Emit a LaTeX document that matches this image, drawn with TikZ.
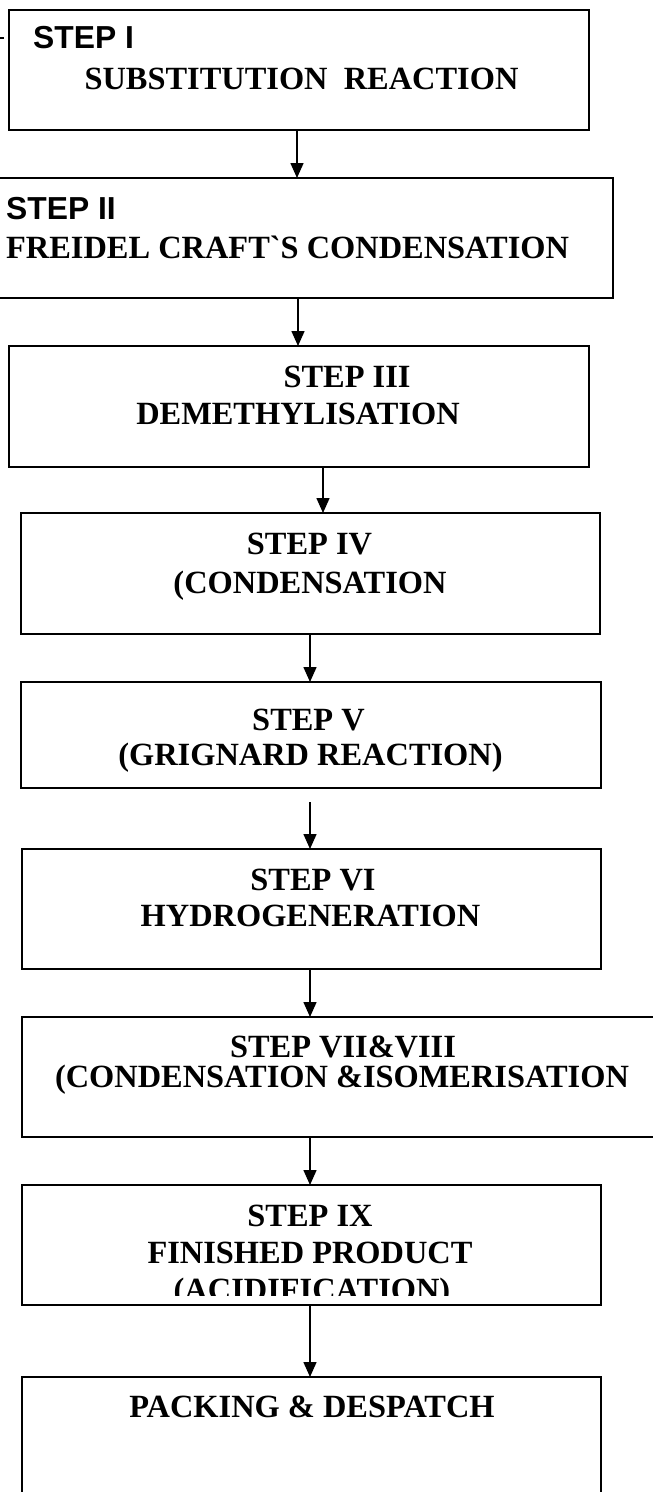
\documentclass[tikz,border=0pt]{standalone}
\usepackage{fontspec}
\usetikzlibrary{arrows.meta}
\newfontfamily\stepfont{Liberation Serif}[Ligatures=TeXOff]
\newfontfamily\stepsans{Liberation Sans}

\begin{document}
\begin{tikzpicture}[x=1pt,y=-1pt,
  box/.style={draw,line width=1.5pt,inner sep=0pt,outer sep=0pt},
  lbl/.style={inner sep=0pt,font=\stepfont\bfseries\fontsize{32.4}{38}\selectfont},
  lbls/.style={inner sep=0pt,font=\stepsans\bfseries\fontsize{31.8}{38}\selectfont},
  flow/.style={line width=1.5pt,-{Triangle[length=15pt,width=13pt]}}]
\path[use as bounding box,clip] (0,0) rectangle (653,1492);

% boxes
\node[box,minimum width=580pt,minimum height=120pt] (b1) at (299,70) {};
\node[box,minimum width=619pt,minimum height=120pt] (b2) at (303.5,238) {};
\node[box,minimum width=580pt,minimum height=121pt] (b3) at (299,406.5) {};
\node[box,minimum width=579pt,minimum height=121pt] (b4) at (310.5,573.5) {};
\node[box,minimum width=580pt,minimum height=106pt] (b5) at (311,735) {};
\node[box,minimum width=579pt,minimum height=120pt] (b6) at (311.5,909) {};
\node[box,minimum width=641pt,minimum height=120pt] (b7) at (342.5,1077) {};
\node[box,minimum width=579pt,minimum height=120pt] (b8) at (311.5,1245) {};
\node[box,minimum width=579pt,minimum height=133pt] (b9) at (311.5,1443.5) {};

% stray tick left of the first box
\coordinate (k1) at (0,38);
\coordinate (k2) at (4,38);
\draw[line width=2pt] (k1) -- (k2);

% labels
\node[lbls,anchor=base west] (t1a) at (33,48) {STEP I};
\node[lbl,anchor=base] (t1b) at (301.5,89) {SUBSTITUTION\ \ REACTION};
\node[lbls,anchor=base west] (t2a) at (6,219) {STEP II};
\node[lbl,anchor=base west] (t2b) at (6,258) {FREIDEL CRAFT`S CONDENSATION};
\node[lbl,anchor=base] (t3a) at (347,387) {STEP III};
\node[lbl,anchor=base] (t3b) at (298,424) {DEMETHYLISATION};
\node[lbl,anchor=base] (t4a) at (309.5,554) {STEP IV};
\node[lbl,anchor=base] (t4b) at (310,593) {(CONDENSATION};
\node[lbl,anchor=base] (t5a) at (308.5,730) {STEP V};
\node[lbl,anchor=base] (t5b) at (310.5,765) {(GRIGNARD REACTION)};
\node[lbl,anchor=base] (t6a) at (313,890) {STEP VI};
\node[lbl,anchor=base] (t6b) at (310.5,926) {HYDROGENERATION};
\node[lbl,anchor=base] (t7a) at (343,1057) {STEP VII\&VIII};
\node[lbl,anchor=base] (t7b) at (342,1087) {(CONDENSATION \&ISOMERISATION};
\node[lbl,anchor=base] (t8a) at (310,1226) {STEP IX};
\node[lbl,anchor=base] (t8b) at (310,1263) {FINISHED PRODUCT};
\begin{scope}
\clip (0,1185) rectangle (653,1295);
\node[lbl,anchor=base] (t8c) at (312,1300) {(ACIDIFICATION)};
\end{scope}
\node[lbl,anchor=base] (t9a) at (312,1417) {PACKING \& DESPATCH};

% arrows
\coordinate (c1) at (297,0);
\coordinate (c2) at (298,0);
\coordinate (c3) at (323,0);
\coordinate (c4) at (310,0);
\coordinate (a5) at (310,802);
\draw[flow] (b1.south -| c1) -- (b2.north -| c1);
\draw[flow] (b2.south -| c2) -- (b3.north -| c2);
\draw[flow] (b3.south -| c3) -- (b4.north -| c3);
\draw[flow] (b4.south -| c4) -- (b5.north -| c4);
\draw[flow] (a5) -- (b6.north -| a5);
\draw[flow] (b6.south -| c4) -- (b7.north -| c4);
\draw[flow] (b7.south -| c4) -- (b8.north -| c4);
\draw[flow] (b8.south -| c4) -- (b9.north -| c4);
\end{tikzpicture}
\end{document}
